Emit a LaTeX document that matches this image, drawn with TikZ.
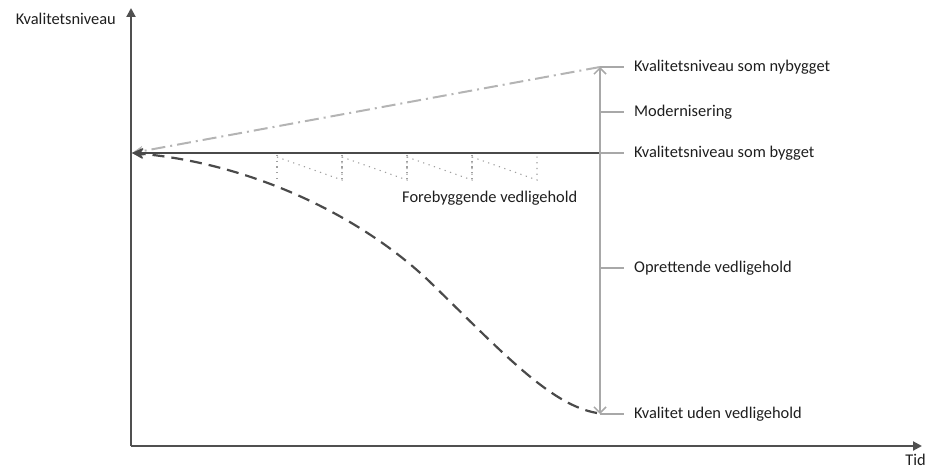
\documentclass[tikz,border=0pt]{standalone}
\usepackage{fontspec}
\setmainfont{Carlito}
\usetikzlibrary{arrows.meta}
\definecolor{axisgray}{HTML}{505050}
\definecolor{linegray}{HTML}{4A4A4A}
\definecolor{lightgray}{HTML}{B4B4B4}
\definecolor{markgray}{HTML}{A8A8A8}
\definecolor{dotgray}{HTML}{A0A0A0}
\definecolor{textgray}{HTML}{1E1E1E}
\tikzset{
  axisline/.style={draw=axisgray, line width=2pt, -{Triangle[length=9pt,width=9pt]}},
  builtline/.style={draw=linegray, line width=2.2pt},
  newline/.style={draw=lightgray, line width=2pt, dash pattern=on 14pt off 5pt on 2pt off 5pt},
  decayline/.style={draw=linegray, line width=2.2pt, dash pattern=on 12pt off 7pt},
  toorigin/.style={-{Stealth[length=11pt,width=10pt,inset=3pt]}},
  rangearrow/.style={draw=markgray, line width=1.5pt, {Straight Barb[length=6pt,width=12pt]}-{Straight Barb[length=6pt,width=12pt]}},
  tickline/.style={draw=markgray, line width=1.5pt},
  sawline/.style={draw=dotgray, line width=1.1pt, dash pattern=on 1.2pt off 4.5pt},
  lbl/.style={anchor=west, inner sep=0pt, text=textgray, font=\fontsize{16.4}{19}\selectfont},
}
\begin{document}
\begin{tikzpicture}[x=1pt,y=-1pt]
  \useasboundingbox (0,0) rectangle (928,470);

  % axes
  \coordinate (c) at (131,446);
  \coordinate (ytop) at (131,8);
  \coordinate (xend) at (922,446);
  \draw[axisline] (c) -- (ytop);
  \draw[axisline] (c) -- (xend);
  \node[lbl, anchor=east] (ylab) at (116,19) {Kvalitetsniveau};
  \node[lbl, anchor=base east] (xlab) at (926,465) {Tid};

  % common starting point and the range at the right
  \coordinate (o) at (132,153);
  \coordinate (rnew) at (600,67);
  \coordinate (rmod) at (600,112);
  \coordinate (rbuilt) at (600,153);
  \coordinate (rdown) at (600,268);
  \coordinate (rlow) at (600,414);

  % quality curves, all pointing back to the start
  \draw[newline, toorigin] (rnew) -- (o);
  \draw[builtline, toorigin] (rbuilt) -- (o);
  \draw[decayline, toorigin] (597,413) .. controls (550,405) and (500,350) .. (430,282)
        .. controls (360,215) and (250,163) .. (o);

  % preventive maintenance sawtooth
  \foreach \i [evaluate=\i as \xa using 277+65*\i, evaluate=\i as \xb using 342+65*\i] in {0,...,3} {
    \draw[sawline] (\xa,155) -- (\xa,180);
    \draw[sawline] (\xa,157) -- (\xb,180) -- (\xb,155);
  }
  \node[lbl] (fv) at (402,198) {Forebyggende vedligehold};

  % range arrow with labelled ticks
  \draw[rangearrow] (rlow) -- (rnew);
  \foreach \p/\n/\t in {rnew/l1/Kvalitetsniveau som nybygget,
                        rmod/l2/Modernisering,
                        rbuilt/l3/Kvalitetsniveau som bygget,
                        rdown/l4/Oprettende vedligehold,
                        rlow/l5/Kvalitet uden vedligehold} {
    \draw[tickline] (\p) -- ++(24,0) coordinate (t\n);
    \node[lbl] (\n) at ([xshift=10pt]t\n) {\t};
  }
\end{tikzpicture}
\end{document}
